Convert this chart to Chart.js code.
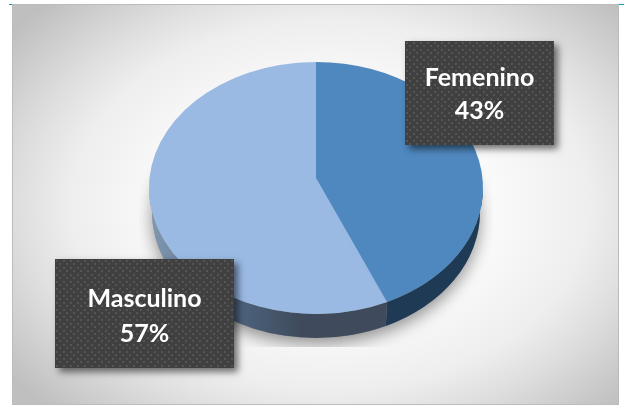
<!DOCTYPE html>
<html>
<head>
<meta charset="utf-8">
<style>html,body{margin:0;padding:0;background:#fff}canvas{display:block}</style>
<script src="https://cdn.jsdelivr.net/npm/chart.js@4"></script>
</head>
<body>
<div style="width:624px;height:406px"><canvas id="c" width="624" height="406"></canvas></div>
<script>
const categories = ['Femenino', 'Masculino'];
const values = [43, 57];
const topColors = ['#4f88bf', '#9abae3'];
const sideColors = ['#1f3a55', '#3f4b5c'];

const squash = 126 / 167, depth = 24, apexLift = 11, baseInset = 3;
const labelBoxes = [
  {x: 405, y: 41, w: 149, h: 104, up: 15, down: 18},
  {x: 55, y: 259, w: 179, h: 109, up: 15, down: 20}
];

function panelBackground(ctx) {
  ctx.save();
  ctx.fillStyle = '#fff';
  ctx.fillRect(0, 0, 624, 406);
  const g = ctx.createRadialGradient(0, 0, 0, 0, 0, 1);
  g.addColorStop(0, '#ffffff');
  g.addColorStop(0.35, '#fdfdfd');
  g.addColorStop(0.65, '#eeeeee');
  g.addColorStop(0.78, '#dedede');
  g.addColorStop(1.0, '#bfbfbf');
  ctx.save();
  ctx.beginPath();
  ctx.rect(12, 4, 607, 401);
  ctx.clip();
  ctx.translate(330, 205);
  ctx.scale(400, 285);
  ctx.fillStyle = g;
  ctx.fillRect(-2, -2, 4, 4);
  ctx.restore();
  ctx.strokeStyle = '#bcbcbc';
  ctx.lineWidth = 1;
  ctx.strokeRect(12.5, 4.5, 606, 400);
  ctx.fillStyle = '#0a9bc4';
  ctx.fillRect(9, 4, 3, 1);
  ctx.fillRect(619, 4, 5, 1);
  ctx.restore();
}

function wallPath(ctx, arc, a0, a1) {
  const rx = arc.outerRadius, ry = rx * squash;
  ctx.beginPath();
  ctx.ellipse(arc.x, arc.y, rx, ry, 0, a0, a1);
  ctx.ellipse(arc.x, arc.y + depth, rx - baseInset, ry, 0, a1, a0, true);
  ctx.closePath();
}

function drawLabel(ctx, box, name, pct, pattern) {
  ctx.save();
  ctx.shadowColor = 'rgba(0,0,0,0.55)';
  ctx.shadowBlur = 7;
  ctx.shadowOffsetX = 4;
  ctx.shadowOffsetY = 4;
  ctx.fillStyle = '#404040';
  ctx.fillRect(box.x, box.y, box.w, box.h);
  ctx.restore();
  ctx.save();
  ctx.translate(box.x, box.y);
  ctx.fillStyle = pattern;
  ctx.fillRect(0, 0, box.w, box.h);
  ctx.restore();
  ctx.fillStyle = '#fff';
  ctx.font = 'bold 25px Lato, "Noto Sans", sans-serif';
  ctx.textAlign = 'center';
  ctx.textBaseline = 'middle';
  const cx = box.x + box.w / 2, cy = box.y + box.h / 2;
  ctx.fillText(name, cx, cy - box.up);
  ctx.fillText(pct + '%', cx, cy + box.down);
}

const pie3d = {
  id: 'pie3d',
  beforeDraw(chart) { panelBackground(chart.ctx); },
  beforeDatasetsDraw(chart) {
    const ctx = chart.ctx, arcs = chart.getDatasetMeta(0).data;
    const a = arcs[0], rx = a.outerRadius, ry = rx * squash;
    // soft shadow, cut off by a box as in the source image
    ctx.save();
    ctx.beginPath();
    ctx.rect(a.x - rx - 10, a.y - 20, 2 * rx + 20, ry + depth + 29);
    ctx.clip();
    ctx.shadowColor = 'rgba(0,0,0,0.42)';
    ctx.shadowBlur = 16;
    ctx.shadowOffsetY = 6;
    ctx.fillStyle = '#888';
    ctx.beginPath();
    ctx.ellipse(a.x, a.y + depth, rx - baseInset, ry, 0, 0, Math.PI * 2);
    ctx.fill();
    ctx.restore();
    // side walls
    arcs.forEach((arc, i) => {
      const a0 = Math.max(arc.startAngle, 0), a1 = Math.min(arc.endAngle, Math.PI);
      if (a1 <= a0) return;
      wallPath(ctx, arc, a0, a1);
      if (i === 1) {
        const g = ctx.createLinearGradient(a.x - rx, 0, a.x - 16, 0);
        g.addColorStop(0, '#8299b3');
        g.addColorStop(0.55, '#4e6582');
        g.addColorStop(1, sideColors[1]);
        ctx.fillStyle = g;
      } else {
        ctx.fillStyle = sideColors[i];
      }
      ctx.fill();
    });
    ctx.save();
    ctx.translate(a.x, a.y);
    ctx.scale(1, squash);
    ctx.translate(-a.x, -a.y);
  },
  afterDatasetsDraw(chart) {
    const ctx = chart.ctx, arcs = chart.getDatasetMeta(0).data;
    ctx.restore();
    // the source's tilted view lifts the wedge apex above the ellipse centre
    const a = arcs[0], rx = a.outerRadius, ry = rx * squash;
    ctx.fillStyle = topColors[1];
    ctx.beginPath();
    ctx.moveTo(a.x - 0.5, a.y + 1);
    ctx.lineTo(a.x - 0.5, a.y - apexLift);
    ctx.lineTo(a.x + rx * Math.cos(a.endAngle), a.y + ry * Math.sin(a.endAngle));
    ctx.closePath();
    ctx.fill();
  },
  afterDraw(chart) {
    const ctx = chart.ctx;
    const t = document.createElement('canvas');
    t.width = 7; t.height = 7;
    const p = t.getContext('2d');
    p.fillStyle = '#555555';
    p.fillRect(1, 1, 2, 2);
    p.fillRect(4, 4, 2, 2);
    const pattern = ctx.createPattern(t, 'repeat');
    categories.forEach((name, i) => drawLabel(ctx, labelBoxes[i], name, values[i], pattern));
  }
};

new Chart(document.getElementById('c'), {
  type: 'pie',
  data: {
    labels: categories,
    datasets: [{data: values, backgroundColor: topColors, borderWidth: 0}]
  },
  options: {
    responsive: false,
    animation: false,
    events: [],
    layout: {padding: {top: 21, bottom: 51, left: 149, right: 141}},
    plugins: {legend: {display: false}, tooltip: {enabled: false}, title: {display: false}}
  },
  plugins: [pie3d]
});
</script>
</body>
</html>
